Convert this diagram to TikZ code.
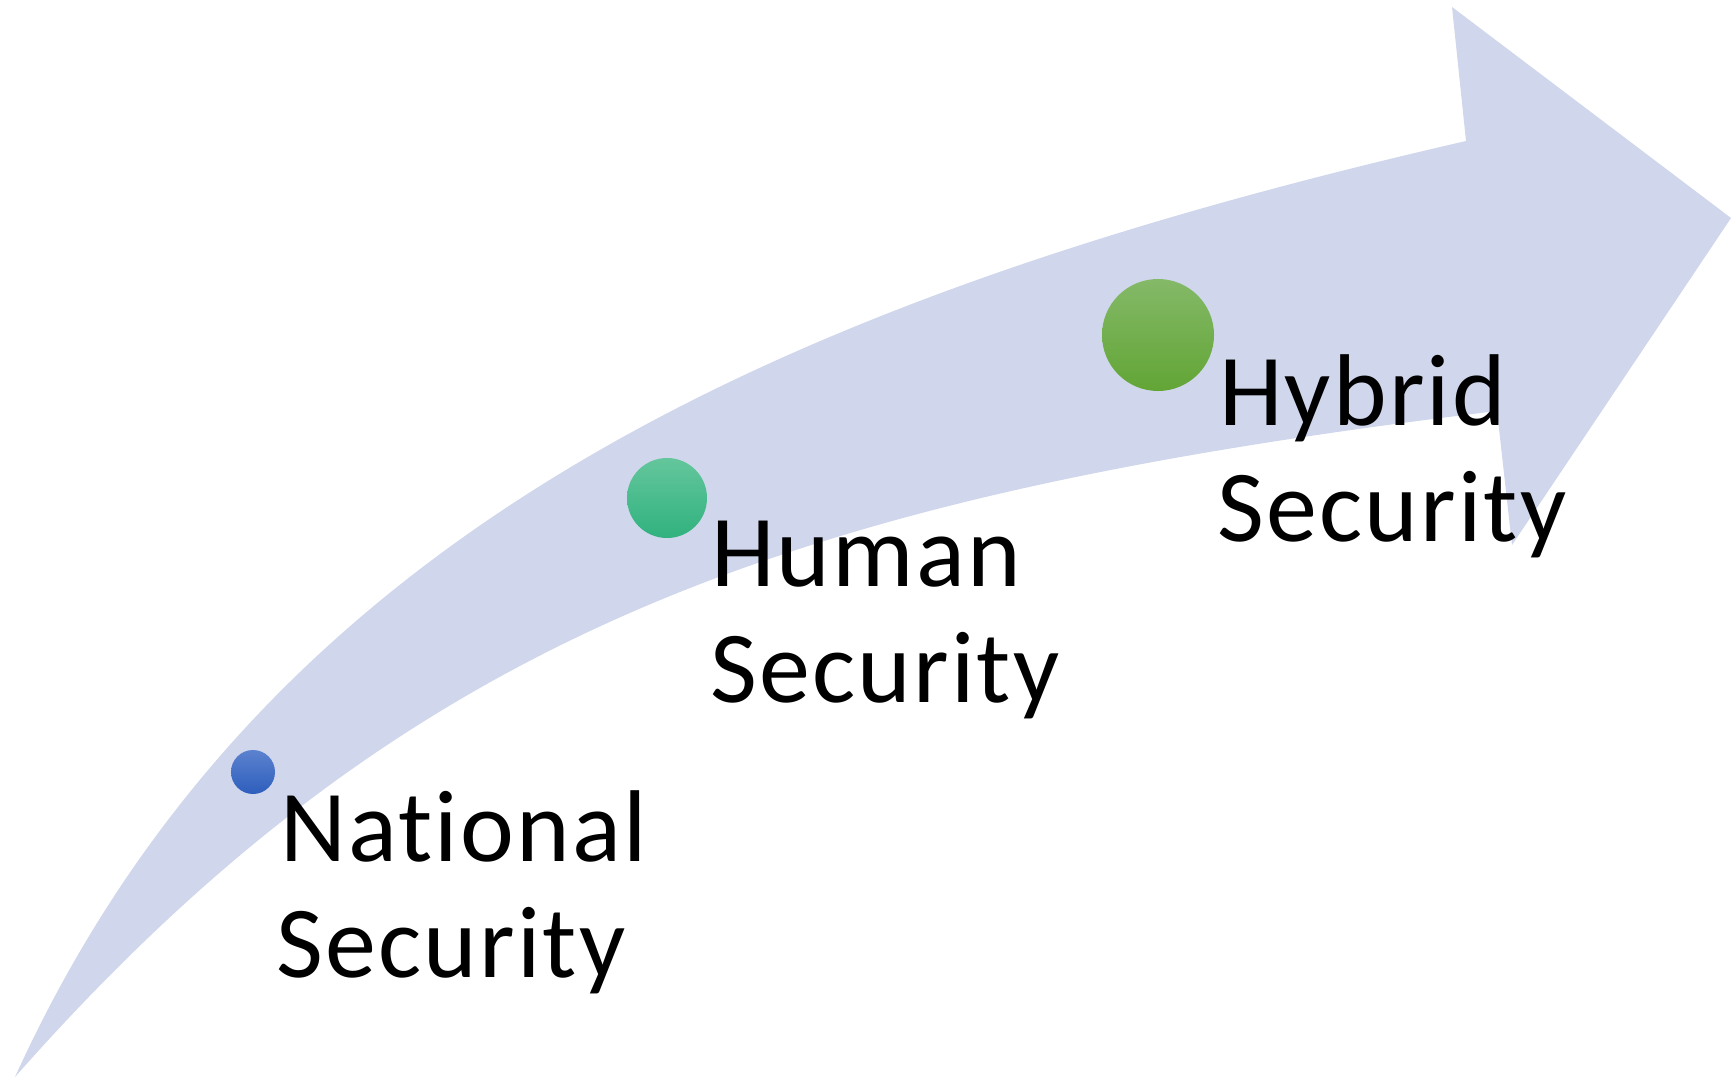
\documentclass[tikz,border=0pt]{standalone}
\usepackage{fontspec}
\setmainfont{Carlito}[Ligatures=NoCommon, LetterSpace=2.2]
\definecolor{bandc}{HTML}{D0D6EB}
\definecolor{blueT}{HTML}{5B82CE}
\definecolor{blueB}{HTML}{2E5EBD}
\definecolor{tealT}{HTML}{64C69C}
\definecolor{tealB}{HTML}{30B27E}
\definecolor{limeT}{HTML}{84B968}
\definecolor{limeB}{HTML}{62A535}
\tikzset{
  band/.style={fill=bandc, draw=none},
  dot/.style={circle, inner sep=0pt, draw=none, shading=axis, shading angle=0},
  lbl/.style={anchor=base west, inner sep=0pt, font=\fontsize{102}{116}\selectfont, text=black}
}
\begin{document}
\begin{tikzpicture}[x=1pt,y=-1pt]
\useasboundingbox (0,0) rectangle (1731,1078);
\fill[band] (15,1077) .. controls (263,531) and (783,298) .. (1466,141)
  -- (1452,7) -- (1731,218) -- (1512,545) -- (1497,411)
  .. controls (802,495) and (412,627) .. (15,1077) -- cycle;
\node[dot, minimum size=44pt, top color=blueT, bottom color=blueB] (natdot) at (253,772) {};
\node[dot, minimum size=80pt, top color=tealT, bottom color=tealB] (humdot) at (667,498) {};
\node[dot, minimum size=112pt, top color=limeT, bottom color=limeB] (hybdot) at (1158,335) {};
\node[lbl] (natA) at (280,861) {National};
\node[lbl] (natB) at (276,977) {Security};
\node[lbl] (humA) at (711,586) {Human};
\node[lbl] (humB) at (710,702) {Security};
\node[lbl] (hybA) at (1219,425) {Hybrid};
\node[lbl] (hybB) at (1217,541) {Security};
\end{tikzpicture}
\end{document}
